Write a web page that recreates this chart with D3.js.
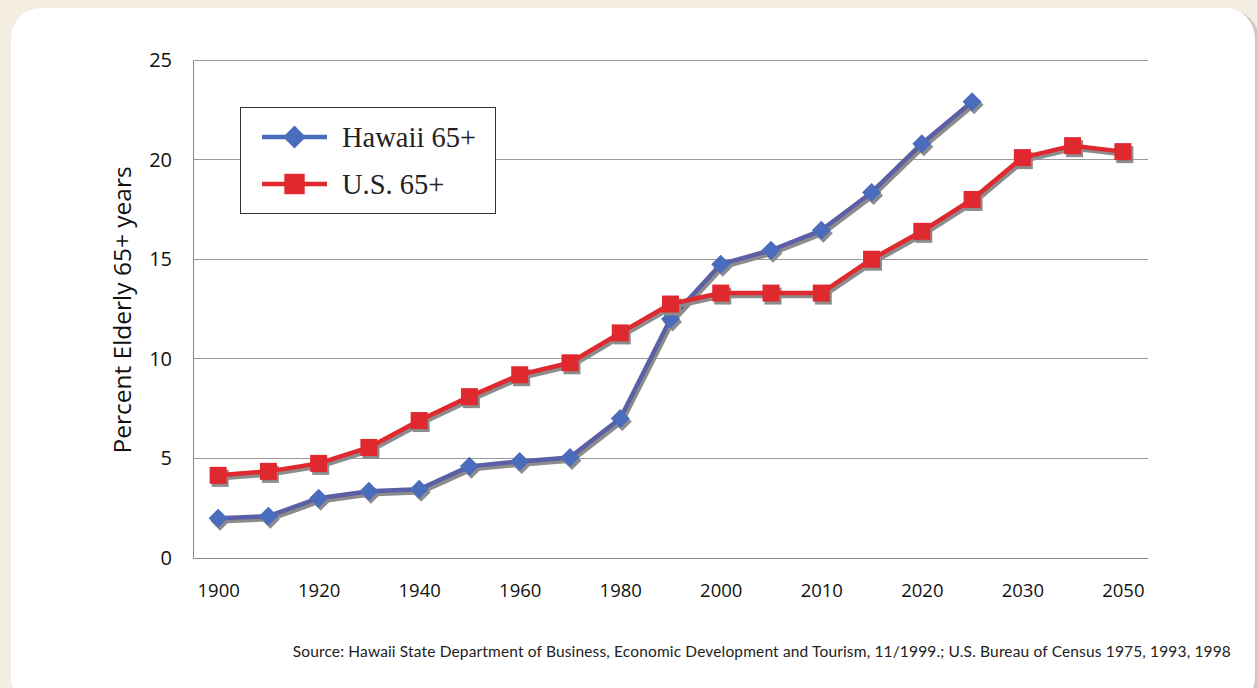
<!DOCTYPE html>
<html>
<head>
<meta charset="utf-8">
<script src="https://cdn.jsdelivr.net/npm/d3@7"></script>
<style>
  body { margin: 0; background: #f3ede2; }
  svg { display: block; }
</style>
</head>
<body>
<svg id="chart" width="1257" height="688"></svg>
<script>
// data
var years = ["1900","1910","1920","1930","1940","1950","1960","1970","1980","1990",
             "2000","2005","2010","2015","2020","2025","2030","2040","2050"];
var tickYears = ["1900","1920","1940","1960","1980","2000","2010","2020","2030","2050"];
var hawaii = [2.0, 2.1, 3.0, 3.35, 3.45, 4.6, 4.85, 5.05, 7.0, 12.0,
              14.75, 15.45, 16.45, 18.35, 20.8, 22.9];
var us = [4.15, 4.35, 4.75, 5.55, 6.9, 8.1, 9.2, 9.8, 11.3, 12.75,
          13.3, 13.3, 13.3, 15.0, 16.4, 18.0, 20.1, 20.7, 20.4];
var yTicks = [0, 5, 10, 15, 20, 25];

var svg = d3.select("#chart");

// card
svg.append("rect")
	.attr("x", 13).attr("y", 10).attr("width", 1246).attr("height", 700)
	.attr("rx", 30).attr("fill", "#a8a49c").attr("opacity", 0.5);
svg.append("rect")
	.attr("x", 11).attr("y", 8).attr("width", 1244).attr("height", 700)
	.attr("rx", 30).attr("fill", "#fff");

var plot = { left: 193, right: 1148, top: 60, bottom: 558 };

var x = d3.scalePoint()
	.domain(years)
	.range([plot.left, plot.right])
	.padding(0.5);

var y = d3.scaleLinear()
	.domain([0, 25])
	.range([plot.bottom, plot.top]);

// gridlines
svg.append("g")
	.selectAll("line")
	.data(yTicks.filter(function (d) { return d > 0; }))
	.join("line")
	.attr("x1", plot.left).attr("x2", plot.right)
	.attr("y1", function (d) { return y(d); })
	.attr("y2", function (d) { return y(d); })
	.attr("stroke", "#9a9a9a").attr("stroke-width", 1)
	.attr("shape-rendering", "crispEdges");

// y axis
var yAxis = svg.append("g")
	.attr("transform", "translate(" + plot.left + ",0)")
	.call(d3.axisLeft(y).tickValues(yTicks).tickSize(0).tickPadding(21));
yAxis.select(".domain").attr("stroke", "#8a8a8a").attr("shape-rendering", "crispEdges");
yAxis.selectAll("text")
	.style("font-family", "'Open Sans', sans-serif")
	.style("font-size", "20px")
	.attr("fill", "#111");

// x axis
var xAxis = svg.append("g")
	.attr("transform", "translate(0," + plot.bottom + ")")
	.call(d3.axisBottom(x).tickValues(tickYears).tickSize(0).tickPadding(26)
		.tickSizeOuter(0));
xAxis.select(".domain")
	.attr("d", "M" + plot.left + ",0.5H" + plot.right)
	.attr("stroke", "#8a8a8a").attr("shape-rendering", "crispEdges");
xAxis.selectAll("text")
	.style("font-family", "'Open Sans', sans-serif")
	.style("font-size", "18.5px")
	.attr("fill", "#111");

// y label
svg.append("text")
	.attr("transform", "translate(131," + ((plot.top + plot.bottom) / 2 + 1) + ") rotate(-90)")
	.attr("text-anchor", "middle")
	.style("font-family", "'Open Sans', sans-serif")
	.style("font-size", "24.5px")
	.attr("fill", "#111")
	.text("Percent Elderly 65+ years");

var line = d3.line()
	.x(function (d, i) { return x(years[i]); })
	.y(function (d) { return y(d); });

var diamond = "M0,-9.5L9.5,0L0,9.5L-9.5,0Z";
var square = "M-8.5,-8.5H8.5V8.5H-8.5Z";

function drawSeries(values, lineColor, markColor, shape) {
	var g = svg.append("g");
	// shadow
	g.append("path")
		.datum(values)
		.attr("d", line)
		.attr("transform", "translate(2,3)")
		.attr("fill", "none")
		.attr("stroke", "#8c8c8c")
		.attr("stroke-width", 4.5)
		.attr("stroke-linejoin", "round");
	g.selectAll(".shadow")
		.data(values)
		.join("path")
		.attr("class", "shadow")
		.attr("d", shape)
		.attr("transform", function (d, i) { return "translate(" + (x(years[i]) + 2) + "," + (y(d) + 3) + ")"; })
		.attr("fill", "#8c8c8c");
	g.append("path")
		.datum(values)
		.attr("d", line)
		.attr("fill", "none")
		.attr("stroke", lineColor)
		.attr("stroke-width", 4.5)
		.attr("stroke-linejoin", "round");
	g.selectAll(".mark")
		.data(values)
		.join("path")
		.attr("class", "mark")
		.attr("d", shape)
		.attr("transform", function (d, i) { return "translate(" + x(years[i]) + "," + y(d) + ")"; })
		.attr("fill", markColor);
}

drawSeries(hawaii, "#5b5fa5", "#4a6cbd", diamond);
drawSeries(us, "#e0282f", "#e0282f", square);

// legend
var legend = svg.append("g");
legend.append("rect")
	.attr("x", 240.5).attr("y", 107.5).attr("width", 255).attr("height", 106)
	.attr("fill", "#fff").attr("stroke", "#333").attr("stroke-width", 1);

var legendItems = [
	{ label: "Hawaii 65+", color: "#4a6cbd", shape: diamond, cy: 137 },
	{ label: "U.S. 65+", color: "#e0282f", shape: square, cy: 184 }
];
legendItems.forEach(function (d) {
	legend.append("line")
		.attr("x1", 262).attr("x2", 327)
		.attr("y1", d.cy).attr("y2", d.cy)
		.attr("stroke", d.color).attr("stroke-width", 4.5);
	legend.append("path")
		.attr("d", d.shape)
		.attr("transform", "translate(294.5," + d.cy + ") scale(1.2)")
		.attr("fill", d.color);
	legend.append("text")
		.attr("x", 342).attr("y", d.cy + 10)
		.style("font-family", "'Liberation Serif', 'DejaVu Serif', serif")
		.style("font-size", "28.5px")
		.attr("fill", "#222")
		.text(d.label);
});

// source
svg.append("text")
	.attr("x", 1231).attr("y", 657)
	.attr("text-anchor", "end")
	.style("font-family", "Lato, sans-serif")
	.style("font-size", "15.5px")
	.style("letter-spacing", "0.15px")
	.attr("fill", "#222")
	.text("Source: Hawaii State Department of Business, Economic Development and Tourism, 11/1999.; U.S. Bureau of Census 1975, 1993, 1998");
</script>
</body>
</html>
